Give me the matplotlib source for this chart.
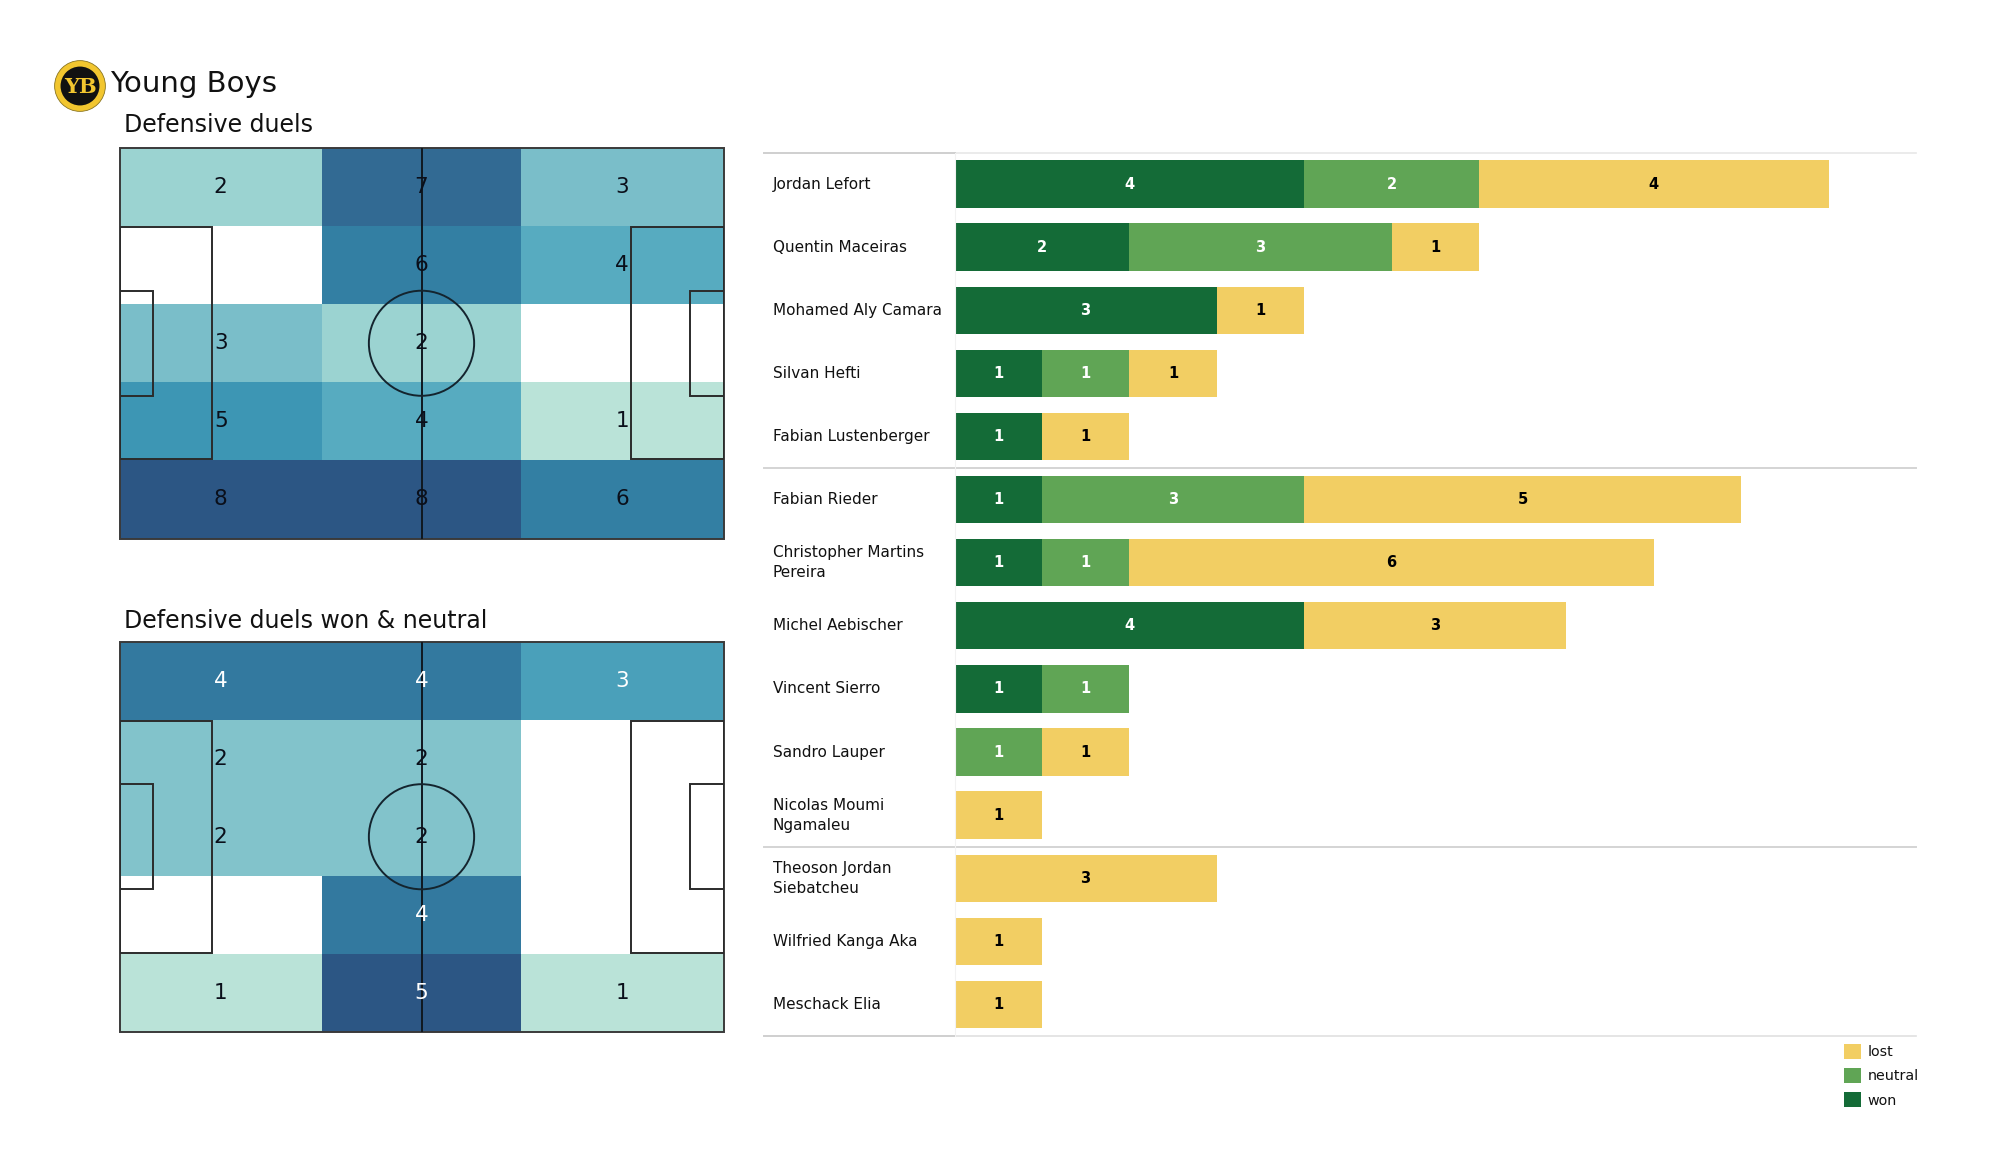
import numpy as np
import matplotlib
matplotlib.use("Agg")
import matplotlib.pyplot as plt
from matplotlib.colors import LinearSegmentedColormap
from matplotlib.patches import Rectangle, Circle

# ---------- data ----------
team = "Young Boys"
title_all = "Defensive duels"
title_won = "Defensive duels won & neutral"
duels_all = [[2, 7, 3],
             [0, 6, 4],
             [3, 2, 0],
             [5, 4, 1],
             [8, 8, 6]]
duels_won = [[4, 4, 3],
             [2, 2, 0],
             [2, 2, 0],
             [0, 4, 0],
             [1, 5, 1]]
players = ["Jordan Lefort", "Quentin Maceiras", "Mohamed Aly Camara", "Silvan Hefti",
           "Fabian Lustenberger", "Fabian Rieder", "Christopher Martins\nPereira",
           "Michel Aebischer", "Vincent Sierro", "Sandro Lauper", "Nicolas Moumi\nNgamaleu",
           "Theoson Jordan\nSiebatcheu", "Wilfried Kanga Aka", "Meschack Elia"]
won = [4, 2, 3, 1, 1, 1, 1, 4, 1, 0, 0, 0, 0, 0]
neutral = [2, 3, 0, 1, 0, 3, 1, 0, 1, 1, 0, 0, 0, 0]
lost = [4, 1, 1, 1, 1, 5, 6, 3, 0, 1, 1, 3, 1, 1]
groups_end = [4, 10]

# ---------- style ----------
W, H = 2000, 1175
C_WON, C_NEUTRAL, C_LOST = "#146B37", "#60A555", "#F2CE63"
heat = LinearSegmentedColormap.from_list(
    "heat", ["#BAE3D8", "#9BD3D1", "#7ABEC9", "#57ABC0", "#3D96B4", "#337FA3", "#326A93", "#2C5684"])
heat.set_bad("white")

fig = plt.figure(figsize=(W / 100, H / 100), dpi=100, facecolor="white")


def px_axes(x0, y0, x1, y1, **kw):
    return fig.add_axes([x0 / W, 1 - y1 / H, (x1 - x0) / W, (y1 - y0) / H], **kw)


def draw_pitch(ax):
    lc = "#2b2b2b"
    lw = 1.4
    ax.add_patch(Rectangle((0, 0), 105, 68, fill=False, ec="#3a3a3a", lw=lw, zorder=3, clip_on=False))
    ax.plot([52.5, 52.5], [0, 68], color="#101820", lw=lw, zorder=3)
    ax.add_patch(Circle((52.5, 34), 9.15, fill=False, ec="#14242e", lw=lw, zorder=3))
    for x, w in [(0, 16), (105 - 16, 16)]:
        ax.add_patch(Rectangle((x, 13.84), w, 40.32, fill=False, ec=lc, lw=lw, zorder=3))
    for x, w in [(0, 5.8), (105 - 5.8, 5.8)]:
        ax.add_patch(Rectangle((x, 24.84), w, 18.32, fill=False, ec=lc, lw=lw, zorder=3))


def draw_heat(ax, grid, white_from):
    arr = np.array(grid, dtype=float)
    xe = [0, 35.2, 69.8, 105]
    ye = np.linspace(68, 0, 6)
    ax.pcolormesh(xe, ye, np.ma.masked_equal(arr, 0), cmap=heat, vmin=1, vmax=arr.max(),
                  shading="flat", zorder=1)
    for r, row in enumerate(grid):
        for c, v in enumerate(row):
            if v:
                ax.text((xe[c] + xe[c + 1]) / 2, (ye[r] + ye[r + 1]) / 2, str(v),
                        ha="center", va="center", fontsize=15.5,
                        color="white" if v >= white_from else "#0a0f1a", zorder=4)
    draw_pitch(ax)
    ax.set_xlim(0, 105)
    ax.set_ylim(0, 68)
    ax.axis("off")


ax1 = px_axes(119.5, 148, 723.5, 538.5)
draw_heat(ax1, duels_all, 99)
ax2 = px_axes(119.5, 641.5, 723.5, 1032)
draw_heat(ax2, duels_won, 3)

fig.text(110 / W, 1 - 84 / H, team, fontsize=21, va="center", ha="left", color="#111111")
fig.text(124 / W, 1 - 125.5 / H, title_all, fontsize=17, va="center", ha="left", color="#111111")
fig.text(124 / W, 1 - 620.5 / H, title_won, fontsize=17, va="center", ha="left", color="#111111")

# ---------- crest ----------
logo = px_axes(53, 59, 107, 113)
logo.set_xlim(-1, 1)
logo.set_ylim(-1, 1)
logo.axis("off")
logo.add_patch(Circle((0, 0), 0.94, fc="#F2C62F", ec="#8a7520", lw=0.6))
logo.add_patch(Circle((0, 0), 0.72, fc="#111111", ec="none"))
logo.text(0.02, -0.05, "YB", fontsize=15, fontweight="bold", color="#F2C62F", ha="center", va="center",
          family="DejaVu Serif")

# ---------- bars ----------
ax = px_axes(954.5, 152.5, 1916, 1036)
y = np.arange(len(players))
won_a, neu_a, lost_a = np.array(won), np.array(neutral), np.array(lost)
series = [("won", won_a, np.zeros_like(won_a), C_WON, "white"),
          ("neutral", neu_a, won_a, C_NEUTRAL, "white"),
          ("lost", lost_a, won_a + neu_a, C_LOST, "black")]
for name, vals, left, col, tc in series:
    ax.barh(y, vals, left=left, height=0.75, color=col, label=name, lw=0)
    for yi, v, l in zip(y, vals, left):
        if v:
            ax.text(l + v / 2, yi, str(v), ha="center", va="center",
                    fontsize=10.5, fontweight="bold", color=tc)
ax.set_xlim(0, 11)
ax.set_ylim(len(players) - 0.5, -0.5)
ax.set_xticks([])
ax.set_yticks(y)
ax.set_yticklabels(players, fontsize=11, ha="left", va="center", color="#111111", linespacing=1.4)
ax.tick_params(axis="y", length=0, pad=131)
for s in ax.spines.values():
    s.set_visible(False)
ax.spines["left"].set_visible(True)
ax.spines["left"].set_color("#f2f2f2")
ax.spines["left"].set_linewidth(0.8)

for yy, c in [(-0.5, "#e8e8e8"), (len(players) - 0.5, "#e0e0e0")]:
    ax.plot([0, 11], [yy, yy], color=c, lw=1.2, clip_on=False)
    ax.plot([-190 / 87.4, 0], [yy, yy], color="#cfcfcf", lw=1.4, clip_on=False)
for g in groups_end:
    ax.plot([-190 / 87.4, 11], [g + 0.5, g + 0.5], color="#d4d4d4", lw=1.4, clip_on=False)

h, l = ax.get_legend_handles_labels()
fig.legend(h[::-1], l[::-1], loc="upper left", bbox_to_anchor=(1840 / W, 1 - 1040 / H),
           frameon=False, fontsize=10.3, handlelength=1.2, handleheight=1.2, borderaxespad=0,
           handletextpad=0.45, labelspacing=0.62, borderpad=0.3, labelcolor="#111111")

fig.savefig("out.png", dpi=100, facecolor="white")
